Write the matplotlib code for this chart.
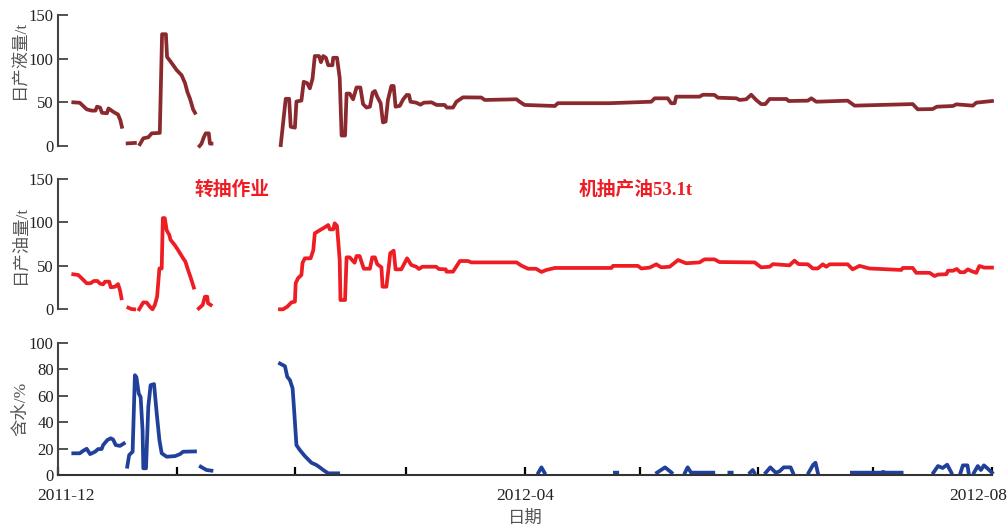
import numpy as np
import matplotlib
matplotlib.use('Agg')
import matplotlib.pyplot as plt
import matplotlib.dates as mdates
import matplotlib.transforms as mtransforms

plt.rcParams['font.family'] = ['Liberation Serif', 'Noto Sans CJK SC', 'DejaVu Sans']

N = None
start_date = '2011-12-01'

# 日产液量 (t) -- days since start_date, None = gap
liq_days = [4, 5.7, 7.5, 8.8, 9.8, 10.2, 11, 11.5, 12.8, 13.2, 14.5, 15.7, 16.3, 16.7, N,
            18.2, 20.1, N,
            21.4, 22.3, 23.6, 24.5, 26.2, 26.6, 27.2, 28.2, 28.5, 29.7, 31, 32.3, 33.2, 33.8, 34.5, 35.3, 35.8, N,
            37, 37.5, 38.1, 38.6, 39.4, 39.7, 40.1, N,
            58.2, 58.8, 59.5, 60.4, 60.8, 61.9, 62.3, 63.6, 64.2, 65.1, 65.8, 66.5, 67.1, 68.2, 68.7, 69.3,
            70, 70.6, 71.7, 71.9, 72.9, 73.6, 74.1, 75, 75.4, 76.2, 77.1, 78, 79, 79.7, 80.6, 81.5, 82.2,
            82.8, 83.4, 84.3, 84.9, 85.6, 86.2, 87.1, 87.7, 88.2, 89.3, 90.2, 91.1, 91.7, 92.1, 93.6, 94.7,
            95.6, 97.6, 98.9, 101, 101.6, 103.2, 104.1, 105.8, 110.6, 111.5, 119.8, 120.6, 121.9, 129.8,
            130.6, 144.1, 155, 155.9, 159.3, 160.2, 161.1, 161.5, 167.6, 168.5, 171.5, 172.4, 177.2, 178.1,
            179.8, 181.1, 182.4, 183.7, 184.8, 185.9, 190.3, 190.9, 195.9, 196.8, 198.1, 206.3, 208.1,
            223.3, 224.6, 228.5, 229.6, 233.8, 234.7, 239, 239.9, 244]
liq_vals = [50, 49.5, 42, 40.5, 40.5, 45, 44, 38, 37.5, 43, 39, 36, 29.5, 22, N,
            3, 3.5, N,
            2, 8.8, 10, 14.5, 15, 15, 128, 128, 102, 95, 87, 81, 72, 62, 54, 42, 38, N,
            0, 2.7, 10, 14.5, 14.5, 2.7, 2.7, N,
            1, 26, 54, 54, 22, 21, 51, 52, 73.5, 72, 66, 77, 103, 103, 96, 103,
            101, 92.5, 92.5, 101, 101, 78, 12, 12, 60, 60, 53.5, 67, 67, 48, 44, 45, 61,
            63, 56.5, 49, 27, 28, 52.7, 68.7, 68.7, 45, 46, 53.5, 58.4, 58.4, 50.7, 49.6, 47.3,
            49.6, 50, 47, 47, 44, 44, 50.7, 55.7, 55.5, 52.7, 53.5, 50.7, 47, 45.8,
            49, 49, 50.7, 54.6, 54.6, 49, 49, 56.5, 56.5, 58.7, 58.5, 55.3, 54.6, 52.7,
            53.5, 58.7, 52.7, 48, 48, 53.8, 53.8, 51.5, 51.9, 54.6, 50.7, 51.9, 46.2,
            48, 42, 42.3, 45, 45.8, 47.7, 46.2, 49.6, 51.5]

# 日产油量 (t)
oil_days = [4, 5.3, 6.2, 7.5, 8.5, 9.4, 10.3, 11, 11.8, 12.3, 13.4, 13.8, 14.9, 15.7, 16.2, 16.6, N,
            18.4, 19.2, 19.9, N,
            21.2, 22.3, 23.2, 24, 24.7, 25.3, 25.9, 26.2, 26.5, 27.1, 27.4, 27.9, 28.4, 29.1, 29.4, 30.5,
            31.4, 32.7, 33.3, 34, 34.6, 35.3, 35.5, N,
            36.8, 37.8, 38.4, 39, 39.2, 39.9, N,
            58, 58.8, 59.9, 61, 61.9, 62.1, 62.7, 63.6, 63.9, 64.5, 66, 66.7, 67.1, 68.2, 69.7, 70.6, 71,
            71.9, 72.3, 72.9, 73.6, 73.8, 75, 75.4, 76.2, 77.5, 78, 78.8, 79.9, 81.5, 82.1, 82.8, 83.4,
            84.5, 84.8, 85.8, 86.5, 86.8, 87.7, 88.2, 89.7, 91.2, 92.3, 93.6, 94.3, 95.2, 98.8, 99.5,
            101.3, 101.5, 103.2, 105, 107.1, 108, 119.8, 121.1, 122.8, 124.9, 126.3, 127.6, 129.8, 144.6,
            145, 151.5, 152.4, 154.6, 156.3, 157.6, 159.8, 162, 164.1, 167.6, 168.9, 171.5, 172.8, 182,
            183.7, 185.9, 186.8, 191.1, 192.4, 193.5, 195.9, 197.2, 198.5, 199.8, 200.7, 201.6, 206.3,
            207.6, 209.4, 212, 220.3, 220.7, 223.3, 224.2, 227.7, 229, 229.9, 232.1, 232.5, 233.8, 234.8,
            235.7, 236.8, 237.7, 238.6, 239.9, 240.7, 242, 244]
oil_vals = [40.3, 39.5, 35.7, 30, 30, 32.6, 32.6, 29.5, 28.8, 31.8, 31.8, 25.3, 26, 29, 22, 12.7, N,
            1.8, 0.3, 0, N,
            0, 8, 7.7, 3, 0, 5, 14.5, 30, 47, 47, 105, 105, 91, 85.5, 80, 74,
            68, 58.7, 54.8, 45, 37.5, 28, 25, N,
            1, 5, 14.5, 14.5, 7, 5, N,
            0, 0, 3, 8, 8.8, 30, 35.7, 39.5, 53.6, 58.7, 58.7, 68, 87.5, 90.5, 94.4, 97, 92,
            92, 99, 96, 56.7, 10.7, 10.7, 59.8, 59.8, 53.6, 61.3, 61.3, 46.7, 46.7, 59.8, 59.8, 52,
            48.3, 26, 26, 51.8, 64.5, 67.5, 46, 46, 58.7, 51, 49, 46.4, 49, 49, 46.4,
            46, 43.3, 43.3, 55.6, 55.6, 54, 54, 50.2, 46.7, 46.7, 43, 45.3, 47.6, 47.6,
            50, 50, 47, 48, 51.8, 48.3, 49, 56.7, 53, 54, 57.5, 57.5, 54.4, 54,
            48.3, 49, 52, 50.6, 56, 52, 51.8, 47, 47, 51.8, 49, 51.8, 51.8,
            46, 50, 47, 45.3, 47.6, 47.6, 42, 42, 38.3, 40, 40.4, 44.4, 44.4, 46.4,
            42.7, 42.7, 46, 44, 42, 49.8, 48, 48]

# 含水 (%)
wc_days = [4, 5.7, 6.6, 7.5, 8.4, 9.7, 10.5, 11.4, 11.8, 12.9, 13.8, 14.4, 15.1, 16.2, 17.2, N,
           18.1, 18.6, 19.5, 20.1, 20.5, 21.1, 21.6, 22.1, 22.3, 23, 23.6, 24.2, 25.1, 25.8, 26.5, 27.1,
           28.4, 30.6, 31.9, 32.7, 35.8, N,
           37.3, 38.8, 40.1, N,
           58, 59.3, 59.9, 60.6, 61.3, 61.7, 62.3, 63.2, 64.5, 66.2, 67.5, 68.4, 69.3, 70.6, 73.2, N,
           125.5, 126.3, 127.1, N,
           145.5, 146.1, N,
           156.5, 158.6, 160.3, N,
           163.8, 164.5, 165.4, 171.2, N,
           175.4, 176, N,
           180.8, 181.5, 181.9, N,
           184.9, 186.1, 187.5, 188.5, 189.6, 191.4, 192, N,
           196.1, 197.3, 197.9, 198.5, N,
           207.4, 215, 215.6, 216.2, 220.4, N,
           228.7, 229.9, 231.1, 232.3, 233.4, N,
           235.8, 236.4, 237.6, 237.9, N,
           239.3, 240.3, 241.1, 241.9, 242.9, 244]
wc_vals = [16.6, 16.6, 18.5, 20, 16, 17.8, 19.8, 19.8, 22.8, 26.6, 27.9, 27, 22.8, 22.2, 24, N,
           6.5, 15.3, 17.8, 75.5, 74, 61.7, 59, 34, 5.3, 5.3, 51.7, 68, 68.8, 46.7, 26.6, 16.6,
           14, 14.5, 16, 17.8, 18, N,
           6.5, 4, 3.5, N,
           84.3, 82.3, 74.3, 71.8, 65.5, 49, 22.8, 19, 14.5, 9.5, 7.8, 6, 4, 1.5, 1.5, N,
           2, 6, 2, N,
           2, 2, N,
           2, 6, 2, N,
           2, 6, 2, 2, N,
           2, 2, N,
           2, 4, 2, N,
           2, 6, 2, 3, 6, 6, 2, N,
           2, 8, 9.5, 2, N,
           2, 2, 2.6, 2, 2, N,
           2, 7, 5.5, 8, 2, N,
           2, 7.5, 7.5, 2, N,
           2, 7, 4, 7.5, 5, 2]

liq_label = '日产液量/t'
oil_label = '日产油量/t'
wc_label = '含水/%'
x_label = '日期'
note_left = '转抽作业'
note_right = '机抽产油53.1t'
labeled_months = ['2011-12-01', '2012-04-01', '2012-08-01']
end_date = '2012-08-01'

base = mdates.date2num(np.datetime64(start_date))


def to_x(days):
    d = np.array(days, dtype=float)
    return base + d


fig = plt.figure(figsize=(10.08, 5.28), dpi=100)
L, W = 0.0575, 0.9266
ax1 = fig.add_axes([L, 0.7235, W, 0.2481])
ax2 = fig.add_axes([L, 0.4142, W, 0.2468])
ax3 = fig.add_axes([L, 0.0998, W, 0.2511])

spine_col = '#444444'
lw = 2.7
ax1.plot(to_x(liq_days), np.array(liq_vals, dtype=float), color='#8B2A2E', lw=lw, clip_on=False)
ax2.plot(to_x(oil_days), np.array(oil_vals, dtype=float), color='#EE1D24', lw=lw, clip_on=False)
ax3.plot(to_x(wc_days), np.array(wc_vals, dtype=float), color='#21409A', lw=lw, clip_on=False)

x0 = base
x1 = mdates.date2num(np.datetime64(end_date))
for ax in (ax1, ax2, ax3):
    ax.set_xlim(x0, x1)
    for s in ('top', 'right'):
        ax.spines[s].set_visible(False)
    ax.spines['left'].set_color(spine_col)
    ax.spines['left'].set_linewidth(1.5)
    ax.tick_params(axis='y', direction='in', length=7, width=1.3, color=spine_col,
                   labelsize=12, labelcolor='#222222', pad=3)
    ax.patch.set_alpha(0)

for ax in (ax1, ax2):
    ax.spines['bottom'].set_visible(False)
    ax.set_xticks([])
    ax.set_ylim(0, 150)
    ax.set_yticks([0, 50, 100, 150])

ax3.set_ylim(0, 100)
ax3.set_yticks([0, 20, 40, 60, 80, 100])
ax3.spines['bottom'].set_color('#333333')
ax3.spines['bottom'].set_linewidth(1.5)
ax3.xaxis.set_minor_locator(mdates.MonthLocator())
ax3.set_xticks([mdates.date2num(np.datetime64(m)) for m in labeled_months])
ax3.xaxis.set_major_formatter(mdates.DateFormatter('%Y-%m'))
ax3.tick_params(axis='x', which='both', direction='in', length=6, width=1.6, color='black',
                labelsize=12.5, labelcolor='#222222', pad=9)

lab_col = '#555555'
ax1.set_ylabel(liq_label, fontsize=12.5, color=lab_col)
ax2.set_ylabel(oil_label, fontsize=12.5, color=lab_col)
ax3.set_ylabel(wc_label, fontsize=12.5, color=lab_col)
ax1.yaxis.set_label_coords(-0.031, 0.664)
ax2.yaxis.set_label_coords(-0.031, 0.5)
ax3.yaxis.set_label_coords(-0.031, 0.5)
ax3.set_xlabel(x_label, fontsize=12.5, color=lab_col, labelpad=5)

fig.canvas.draw()
labels = ax3.get_xticklabels()
offs = [8, 0, -14]
for lab, o in zip(labels, offs):
    lab.set_transform(lab.get_transform() + mtransforms.ScaledTranslation(o / 100, 0, fig.dpi_scale_trans))

red = '#EE1D24'
fig.text(0.230, 0.640, note_left, color=red, fontsize=13.5, fontweight='bold', ha='center', va='center')
fig.text(0.631, 0.640, note_right, color=red, fontsize=13.5, fontweight='bold', ha='center', va='center')

fig.savefig('out.png', dpi=100)
